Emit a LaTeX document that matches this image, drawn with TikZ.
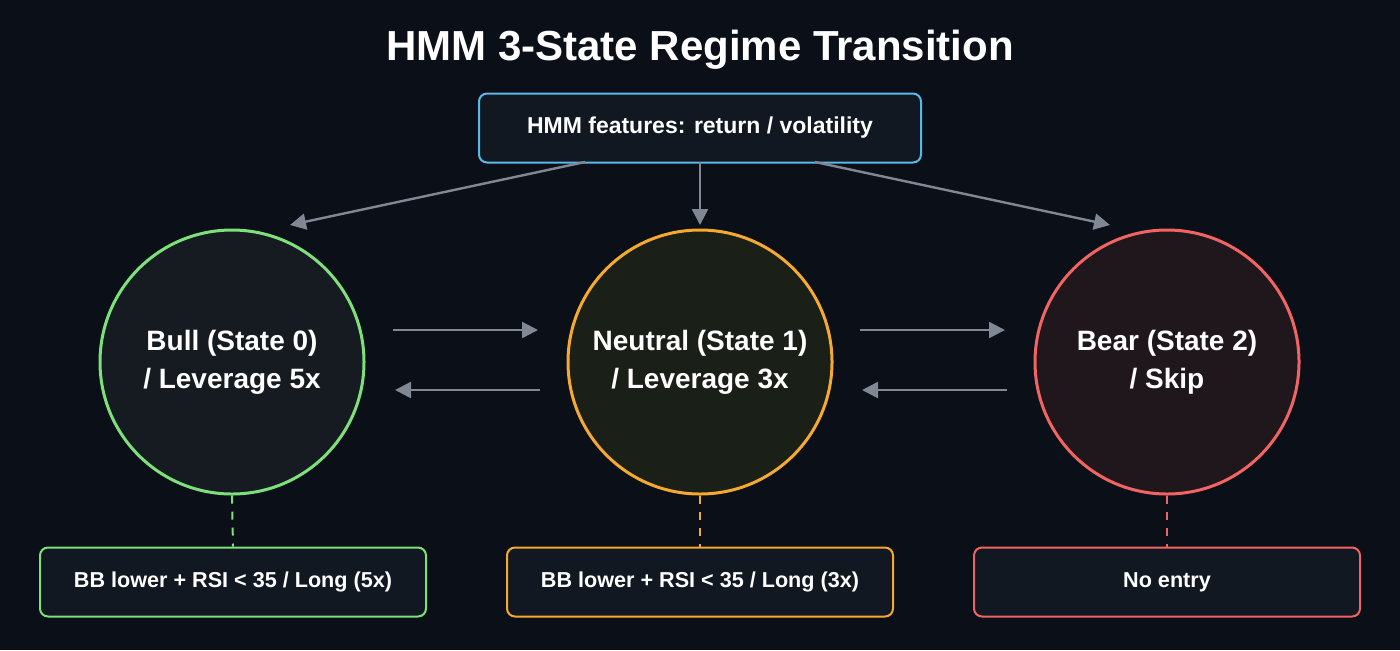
\documentclass[tikz,border=0pt]{standalone}
\usepackage{fontspec}
\setmainfont{Liberation Sans}
\usetikzlibrary{arrows.meta}
\definecolor{bg}{HTML}{0B0F17}
\definecolor{cgreen}{HTML}{7EE07A}
\definecolor{corange}{HTML}{F5A930}
\definecolor{cred}{HTML}{F26464}
\definecolor{cblue}{HTML}{5BB8E8}
\definecolor{cgray}{HTML}{7F8894}
\definecolor{boxfill}{HTML}{111821}
\tikzset{
  statec/.style={circle,minimum size=132pt,line width=1.5pt,text=white,font=\fontsize{14}{19}\selectfont\bfseries,align=center},
  infobox/.style={draw,rounded corners=4pt,line width=1pt,fill=boxfill,text=white,font=\fontsize{10.8}{13}\selectfont\bfseries,minimum width=193pt,minimum height=34.5pt},
  arr/.style={draw=cgray,line width=1.2pt,-{Triangle[length=8pt,width=8pt]}},
  dsh/.style={line width=1pt,dash pattern=on 4pt off 4pt}
}
\begin{document}
\begin{tikzpicture}[x=0.5pt,y=-0.5pt]
\fill[bg] (0,0) rectangle (1400,650);
\node[text=white,font=\fontsize{21}{25}\selectfont\bfseries] (title) at (700,50) {HMM 3-State Regime Transition};
\node[infobox,draw=cblue,minimum width=221pt,font=\fontsize{11.5}{13}\selectfont\bfseries] (feat) at (700,128) {HMM features: return / volatility};
\node[statec,draw=cgreen,fill={rgb,255:red,22;green,27;blue,34}] (bull) at (232,362) {Bull (State 0)\\/ Leverage 5x};
\node[statec,draw=corange,fill={rgb,255:red,26;green,31;blue,23}] (neu) at (700,362) {Neutral (State 1)\\/ Leverage 3x};
\node[statec,draw=cred,fill={rgb,255:red,31;green,23;blue,27}] (bear) at (1167,362) {Bear (State 2)\\/ Skip};
\node[infobox,draw=cgreen] (b1) at (233,582) {BB lower + RSI < 35 / Long (5x)};
\node[infobox,draw=corange] (b2) at (700,582) {BB lower + RSI < 35 / Long (3x)};
\node[infobox,draw=cred] (b3) at (1167,582) {No entry};
\coordinate (f1) at (585,162); \coordinate (t1) at (290,225);
\coordinate (f2) at (700,162); \coordinate (t2) at (700,225);
\coordinate (f3) at (815,162); \coordinate (t3) at (1110,225);
\draw[arr] (f1) -- (t1);
\draw[arr] (f2) -- (t2);
\draw[arr] (f3) -- (t3);
\coordinate (h1) at (393,330); \coordinate (h2) at (538,330);
\coordinate (h3) at (540,390); \coordinate (h4) at (395,390);
\coordinate (h5) at (860,330); \coordinate (h6) at (1005,330);
\coordinate (h7) at (1007,390); \coordinate (h8) at (862,390);
\draw[arr] (h1) -- (h2);
\draw[arr] (h3) -- (h4);
\draw[arr] (h5) -- (h6);
\draw[arr] (h7) -- (h8);
\draw[dsh,cgreen] (bull.south) -- (b1.north);
\draw[dsh,corange] (neu.south) -- (b2.north);
\draw[dsh,cred] (bear.south) -- (b3.north);
\end{tikzpicture}
\end{document}
